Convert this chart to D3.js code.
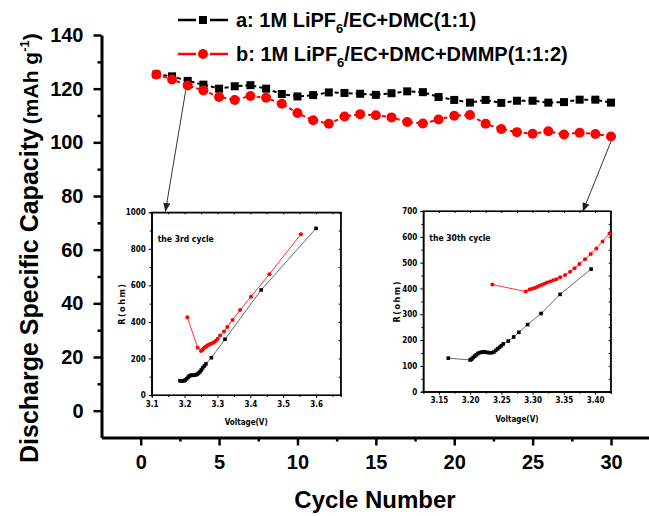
<!DOCTYPE html>
<html>
<head>
<meta charset="utf-8">
<script src="https://cdn.jsdelivr.net/npm/d3@7"></script>
<style>
  body { margin: 0; background: #fff; }
  svg { display: block; }
  text { font-family: "Liberation Sans", Arial, sans-serif; }
  .inset text { font-family: "Liberation Sans Narrow", "Arial Narrow", "DejaVu Sans Condensed", sans-serif; font-weight: bold; }
</style>
</head>
<body>
<svg id="chart" width="649" height="516"></svg>
<script>
// main plot: discharge capacity per cycle
const cycles = [1, 2, 3, 4, 5, 6, 7, 8, 9, 10, 11, 12, 13, 14, 15, 16, 17, 18, 19, 20, 21, 22, 23, 24, 25, 26, 27, 28, 29, 30];
const capacityA = [125.3, 124.6, 122.9, 121.5, 120.0, 120.9, 121.3, 120.0, 118.0, 117.1, 117.6, 118.6, 118.4, 118.1, 117.7,
  118.3, 119.0, 118.7, 116.9, 115.8, 114.8, 115.8, 114.7, 115.5, 115.5, 114.8, 115.0, 115.9, 115.9, 114.8];
const capacityB = [125.3, 123.4, 121.2, 119.3, 116.9, 115.8, 117.3, 116.6, 114.4, 110.9, 108.2, 106.9, 109.6, 110.5, 110.1,
  109.3, 107.6, 107.0, 108.5, 109.9, 110.2, 106.9, 105.0, 103.8, 103.2, 104.1, 102.9, 103.6, 103.1, 102.2];
const xTicks = [0, 5, 10, 15, 20, 25, 30];
const yTicks = [0, 20, 40, 60, 80, 100, 120, 140];

// inset 1: the 3rd cycle
const c3VoltA = [3.186, 3.190, 3.194, 3.198, 3.202, 3.2065, 3.2105, 3.2146, 3.2187, 3.2227, 3.2268, 3.2308, 3.2349, 3.239,
  3.243, 3.247, 3.251, 3.255, 3.260, 3.265, 3.2815, 3.323, 3.433, 3.600];
const c3ResA = [78, 77, 77, 78, 82, 89, 97, 104, 108, 108, 108, 109, 111, 115, 120, 128, 137, 148, 159, 170, 204, 305, 575, 912];
const c3VoltB = [3.2085, 3.240, 3.250, 3.254, 3.258, 3.262, 3.266, 3.270, 3.2755, 3.2805, 3.2856, 3.2907, 3.2957, 3.3008,
  3.308, 3.320, 3.330, 3.346, 3.369, 3.402, 3.458, 3.554];
const c3ResB = [425, 259, 241, 246, 254, 261, 266, 272, 277, 281, 285, 290, 297, 308, 325, 347, 372, 411, 465, 538, 661, 880];

// inset 2: the 30th cycle
const c30VoltA = [3.165, 3.200, 3.2015, 3.203, 3.205, 3.2075, 3.210, 3.2125, 3.215, 3.218, 3.221, 3.224, 3.2275, 3.231,
  3.2345, 3.238, 3.241, 3.244, 3.247, 3.250, 3.253, 3.261, 3.2697, 3.278, 3.292, 3.3135, 3.344, 3.3936];
const c30ResA = [130, 123, 125, 128, 133, 138, 143, 148, 151, 153, 154, 154, 152, 151, 151, 154, 160, 166, 172, 178, 185,
  196, 212, 230, 260, 303, 377, 475];
const c30VoltB = [3.2355, 3.289, 3.295, 3.299, 3.303, 3.307, 3.311, 3.315, 3.319, 3.323, 3.328, 3.333, 3.338, 3.344, 3.352,
  3.360, 3.367, 3.375, 3.384, 3.393, 3.402, 3.412, 3.423];
const c30ResB = [415, 388, 396, 399, 402, 406, 410, 414, 418, 423, 427, 432, 436, 443, 452, 465, 478, 495, 513, 533, 555, 582, 613];

const svg = d3.select("#chart");

// SCALES
const x = d3.scaleLinear().domain([-2.5, 32.5]).range([101.5, 650.2]);
const y = d3.scaleLinear().domain([-10, 140]).range([437.5, 35]);

// AXES
const gy = svg.append("g").attr("transform", "translate(101.5,0)");
gy.call(d3.axisLeft(y).tickValues(yTicks).tickSize(8).tickSizeOuter(0).tickPadding(10));
gy.append("g").call(d3.axisLeft(y).tickValues([10, 30, 50, 70, 90, 110, 130]).tickSize(4).tickFormat(""))
  .select(".domain").remove();

const gx = svg.append("g").attr("transform", `translate(0,${y(-10)})`);
gx.call(d3.axisBottom(x).tickValues(xTicks).tickSize(8).tickSizeOuter(0).tickPadding(9));
gx.append("g").call(d3.axisBottom(x).tickValues([2.5, 7.5, 12.5, 17.5, 22.5, 27.5]).tickSize(4).tickFormat(""))
  .select(".domain").remove();

svg.selectAll(".domain").attr("stroke", "#000").attr("stroke-width", 3);
svg.selectAll(".tick line").attr("stroke", "#000").attr("stroke-width", 2.5);
svg.selectAll(".tick text").attr("fill", "#000")
  .style("font-size", "20px").style("font-weight", "bold").style("font-family", "'Liberation Sans', Arial, sans-serif");
gx.selectAll(".tick text").attr("dy", "0.71em");

// AXIS TITLES
svg.append("text")
  .attr("x", 375).attr("y", 508)
  .attr("text-anchor", "middle")
  .style("font-size", "24px").style("font-weight", "bold")
  .text("Cycle Number");

const yt = svg.append("text")
  .attr("transform", "translate(38,463) rotate(-90)")
  .style("font-weight", "bold");
yt.append("tspan").style("font-size", "25px").text("Discharge Specific Capacity");
yt.append("tspan").style("font-size", "21px").attr("dx", 4).text("(mAh g");
yt.append("tspan").style("font-size", "13px").attr("dy", -9).text("-1");
yt.append("tspan").style("font-size", "21px").attr("dy", 9).text(")");

// MAIN SERIES
const lineA = d3.line().x((d, i) => x(cycles[i])).y((d) => y(d));
svg.append("path").datum(capacityA)
  .attr("d", lineA).attr("fill", "none")
  .attr("stroke", "#000").attr("stroke-width", 2).attr("stroke-dasharray", "4,3");
svg.append("path").datum(capacityB)
  .attr("d", lineA).attr("fill", "none")
  .attr("stroke", "#ff0000").attr("stroke-width", 2).attr("stroke-dasharray", "4,3");

svg.selectAll(".sq").data(capacityA).join("rect").attr("class", "sq")
  .attr("x", (d, i) => x(cycles[i]) - 4).attr("y", (d) => y(d) - 4)
  .attr("width", 8).attr("height", 8).attr("fill", "#000");
svg.selectAll(".dot").data(capacityB).join("circle").attr("class", "dot")
  .attr("cx", (d, i) => x(cycles[i])).attr("cy", (d) => y(d))
  .attr("r", 5).attr("fill", "#ff0000");

// LEGEND
const legend = [
  { name: "a: 1M LiPF", sub: "6", rest: "/EC+DMC(1:1)", color: "#000", shape: "square", yy: 20 },
  { name: "b: 1M LiPF", sub: "6", rest: "/EC+DMC+DMMP(1:1:2)", color: "#ff0000", shape: "circle", yy: 54 },
];
legend.forEach((l) => {
  const g = svg.append("g");
  g.append("line").attr("x1", 178).attr("x2", 196).attr("y1", l.yy).attr("y2", l.yy)
    .attr("stroke", l.color).attr("stroke-width", 2.5);
  g.append("line").attr("x1", 210).attr("x2", 228).attr("y1", l.yy).attr("y2", l.yy)
    .attr("stroke", l.color).attr("stroke-width", 2.5);
  if (l.shape == "square") {
    g.append("rect").attr("x", 199).attr("y", l.yy - 4).attr("width", 8).attr("height", 8).attr("fill", l.color);
  } else {
    g.append("circle").attr("cx", 203).attr("cy", l.yy).attr("r", 5).attr("fill", l.color);
  }
  const t = g.append("text").attr("x", 236).attr("y", l.yy + 7)
    .style("font-size", "20px").style("font-weight", "bold");
  t.append("tspan").text(l.name);
  t.append("tspan").style("font-size", "13px").attr("dy", 6).text(l.sub);
  t.append("tspan").attr("dy", -6).text(l.rest);
});

// ARROWS
svg.append("defs").append("marker")
  .attr("id", "arrow").attr("viewBox", "0 0 10 10")
  .attr("refX", 9).attr("refY", 5)
  .attr("markerWidth", 9).attr("markerHeight", 9)
  .attr("markerUnits", "userSpaceOnUse")
  .attr("orient", "auto")
  .append("path").attr("d", "M0,1 L10,5 L0,9 Z").attr("fill", "#222");

svg.append("line")
  .attr("x1", x(3) - 2).attr("y1", y(capacityB[2]) + 5)
  .attr("x2", 165.5).attr("y2", 211)
  .attr("stroke", "#333").attr("stroke-width", 1)
  .attr("marker-end", "url(#arrow)");
svg.append("line")
  .attr("x1", x(30)).attr("y1", y(capacityB[29]) + 5)
  .attr("x2", 583).attr("y2", 211)
  .attr("stroke", "#333").attr("stroke-width", 1)
  .attr("marker-end", "url(#arrow)");

// INSETS
function drawInset(opt) {
  const g = svg.append("g").attr("class", "inset");
  const ix = d3.scaleLinear().domain(opt.xDomain).range([opt.left, opt.right]);
  const iy = d3.scaleLinear().domain(opt.yDomain).range([opt.bottom, opt.top]);

  g.append("rect").attr("x", opt.left).attr("y", opt.top)
    .attr("width", opt.right - opt.left).attr("height", opt.bottom - opt.top)
    .attr("fill", "#fff").attr("stroke", "#000").attr("stroke-width", 1.2);

  const ax = g.append("g").attr("transform", `translate(0,${opt.bottom})`)
    .call(d3.axisBottom(ix).tickValues(opt.xTicks).tickSize(3).tickSizeOuter(0).tickFormat(d3.format(opt.xFmt)));
  ax.append("g").call(d3.axisBottom(ix).tickValues(opt.xMinor).tickSize(2).tickFormat(""));
  const ay = g.append("g").attr("transform", `translate(${opt.left},0)`)
    .call(d3.axisLeft(iy).tickValues(opt.yTicks).tickSize(3).tickSizeOuter(0).tickFormat(d3.format("d")));
  ay.append("g").call(d3.axisLeft(iy).tickValues(opt.yMinor).tickSize(2).tickFormat(""));
  // mirrored ticks on top and right
  g.append("g").attr("transform", `translate(0,${opt.top})`)
    .call(d3.axisBottom(ix).tickValues(opt.xTicks.concat(opt.xMinor)).tickSize(2).tickFormat(""));
  g.append("g").attr("transform", `translate(${opt.right},0)`)
    .call(d3.axisLeft(iy).tickValues(opt.yTicks.concat(opt.yMinor)).tickSize(2).tickFormat(""));
  g.selectAll(".domain").attr("stroke", "#000").attr("stroke-width", 1.2);
  g.selectAll(".tick line").attr("stroke", "#000").attr("stroke-width", 1);
  g.selectAll(".tick text").attr("fill", "#000").style("font-size", "8px");

  g.append("text").attr("x", opt.left + 6).attr("y", opt.top + 30)
    .style("font-size", "8.5px").text(opt.title);
  g.append("text").attr("x", (opt.left + opt.right) / 2).attr("y", opt.bottom + 30)
    .attr("text-anchor", "middle").style("font-size", "8px").text("Voltage(V)");
  g.append("text")
    .attr("transform", `translate(${opt.left - opt.yLabelOff},${(opt.top + opt.bottom) / 2}) rotate(-90)`)
    .attr("text-anchor", "middle").style("font-size", "9px").style("letter-spacing", "1.5px")
    .text("R(ohm)");

  const ln = d3.line().x((d) => ix(d[0])).y((d) => iy(d[1]));
  const dataA = opt.voltA.map((v, i) => [v, opt.resA[i]]);
  const dataB = opt.voltB.map((v, i) => [v, opt.resB[i]]);
  g.append("path").datum(dataA).attr("d", ln).attr("fill", "none").attr("stroke", "#444").attr("stroke-width", 0.8);
  g.append("path").datum(dataB).attr("d", ln).attr("fill", "none").attr("stroke", "#ff0000").attr("stroke-width", 0.8);
  g.selectAll(".isq").data(dataA).join("rect").attr("class", "isq")
    .attr("x", (d) => ix(d[0]) - 1.8).attr("y", (d) => iy(d[1]) - 1.8)
    .attr("width", 3.6).attr("height", 3.6).attr("fill", "#000");
  g.selectAll(".idot").data(dataB).join("circle").attr("class", "idot")
    .attr("cx", (d) => ix(d[0])).attr("cy", (d) => iy(d[1]))
    .attr("r", 2).attr("fill", "#ff0000");
}

drawInset({
  left: 151.7, right: 340.7, top: 212.3, bottom: 395,
  xDomain: [3.1, 3.675], yDomain: [0, 1000],
  xTicks: [3.1, 3.2, 3.3, 3.4, 3.5, 3.6], xMinor: [3.15, 3.25, 3.35, 3.45, 3.55, 3.65], xFmt: ".1f",
  yTicks: [0, 200, 400, 600, 800, 1000], yMinor: [100, 300, 500, 700, 900],
  title: "the 3rd cycle", yLabelOff: 27,
  voltA: c3VoltA, resA: c3ResA, voltB: c3VoltB, resB: c3ResB,
});
drawInset({
  left: 423.3, right: 610.7, top: 211, bottom: 391.7,
  xDomain: [3.125, 3.425], yDomain: [0, 700],
  xTicks: [3.15, 3.2, 3.25, 3.3, 3.35, 3.4], xMinor: [3.175, 3.225, 3.275, 3.325, 3.375, 3.425], xFmt: ".2f",
  yTicks: [0, 100, 200, 300, 400, 500, 600, 700], yMinor: [50, 150, 250, 350, 450, 550, 650],
  title: "the 30th cycle", yLabelOff: 23,
  voltA: c30VoltA, resA: c30ResA, voltB: c30VoltB, resB: c30ResB,
});
</script>
</body>
</html>
